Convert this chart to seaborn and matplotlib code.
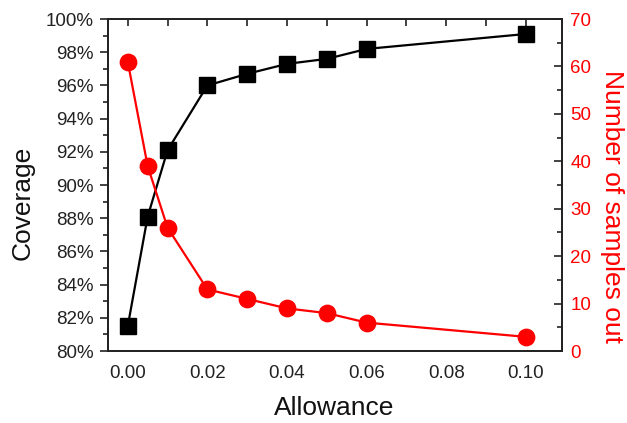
import matplotlib
matplotlib.use("Agg")
import matplotlib.pyplot as plt
from matplotlib.ticker import MultipleLocator, FuncFormatter
import seaborn as sns
import pandas as pd

allowance = [0.0, 0.005, 0.01, 0.02, 0.03, 0.04, 0.05, 0.06, 0.10]
coverage = [81.5, 88.1, 92.1, 96.0, 96.7, 97.3, 97.6, 98.2, 99.1]
samples_out = [61, 39, 26, 13, 11, 9, 8, 6, 3]

df = pd.DataFrame({"allowance": allowance, "coverage": coverage,
                   "samples_out": samples_out})

sns.set_theme(style="white")
plt.rcParams["font.family"] = ["Liberation Sans", "DejaVu Sans"]

fig = plt.figure(figsize=(6.27, 4.23), dpi=100)
ax = fig.add_axes([0.172, 0.170, 0.724, 0.785])
ax2 = ax.twinx()

sns.lineplot(data=df, x="allowance", y="coverage", ax=ax, color="black",
             marker="s", markersize=11.3, markeredgecolor="black",
             markeredgewidth=1, linewidth=1.6, zorder=3)
sns.lineplot(data=df, x="allowance", y="samples_out", ax=ax2, color="#ff0000",
             marker="o", markersize=11.8, markeredgecolor="#ff0000",
             markeredgewidth=1, linewidth=1.6, zorder=3)

ax.set_xlim(-0.005, 0.109)
ax.set_ylim(80, 100)
ax2.set_ylim(0, 70)

ax.xaxis.set_major_locator(MultipleLocator(0.02))
ax.xaxis.set_minor_locator(MultipleLocator(0.01))
ax.xaxis.set_major_formatter(FuncFormatter(lambda v, p: f"{v:.2f}"))
ax.yaxis.set_major_locator(MultipleLocator(2))
ax.yaxis.set_minor_locator(MultipleLocator(1))
ax.yaxis.set_major_formatter(FuncFormatter(lambda v, p: f"{v:.0f}%"))
ax2.yaxis.set_major_locator(MultipleLocator(10))
ax2.yaxis.set_minor_locator(MultipleLocator(5))

for a in (ax, ax2):
    for s in a.spines.values():
        s.set_color("#222222")
        s.set_linewidth(1.3)

ax.tick_params(axis="both", which="major", direction="out", length=6,
               width=1.2, labelsize=13.5, colors="#222222", pad=4)
ax.tick_params(axis="both", which="minor", direction="out", length=3.5,
               width=1.2, colors="#222222")
ax2.tick_params(axis="y", which="major", direction="in", length=6, width=1.2,
                color="#222222", labelcolor="#ff0000", labelsize=13.5, pad=6)
ax2.tick_params(axis="y", which="minor", direction="in", length=3.5,
                width=1.2, color="#222222")

top = ax.secondary_xaxis("top")
top.xaxis.set_major_locator(MultipleLocator(0.01))
top.tick_params(direction="in", length=5, width=1.2, color="#222222",
                labeltop=False)
top.spines["top"].set_visible(False)

ax.set_xlabel("Allowance", fontsize=19, color="#111111", va="top")
ax.xaxis.set_label_coords(0.499, -0.136)
ax.set_ylabel("Coverage", fontsize=19, color="#111111", va="bottom")
ax.yaxis.set_label_coords(-0.162, 0.446)
ax2.set_ylabel("Number of samples out", fontsize=19, color="#ff0000",
               rotation=270, va="bottom")
ax2.yaxis.set_label_coords(1.085, 0.435)

fig.savefig("out.png", dpi=100)
